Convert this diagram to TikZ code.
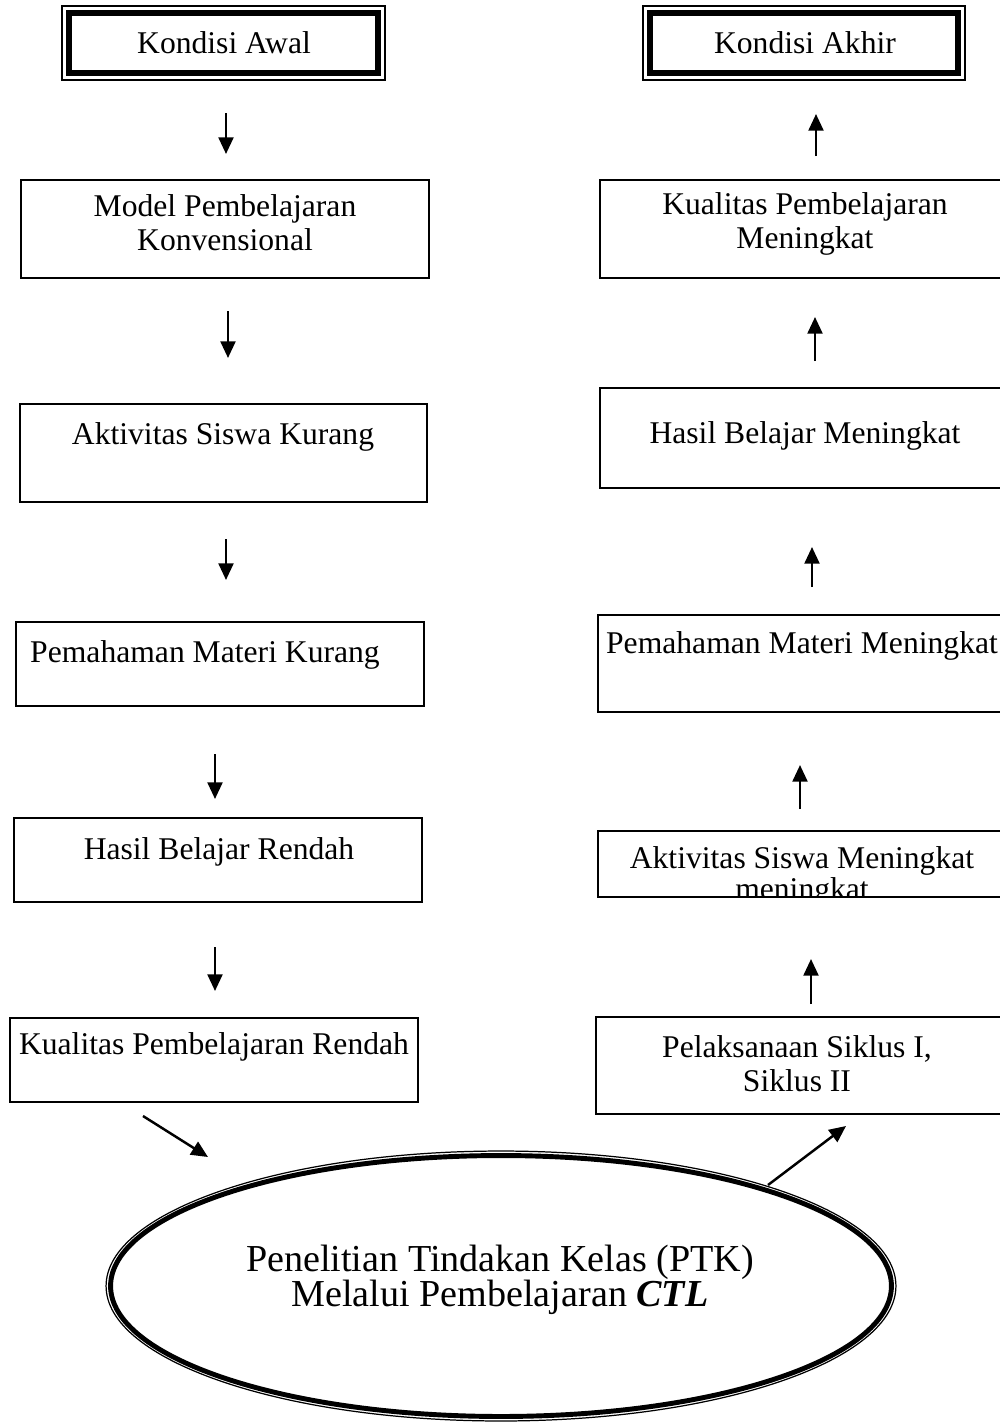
\documentclass[tikz,border=0pt]{standalone}
\usepackage{fontspec}
\setmainfont{Liberation Serif}
\usetikzlibrary{arrows.meta,shapes.geometric,fit}
\tikzset{
  box/.style={draw, line width=1.1pt, inner sep=0pt},
  thinbox/.style={draw, line width=0.8pt, inner sep=0pt},
  txt/.style={font=\fontsize{18}{19.4}\selectfont, align=center, inner sep=0pt},
  arr/.style={line width=1.4pt, -{Triangle[length=9.5pt,width=8.5pt]}},
}
\begin{document}
\begin{tikzpicture}[x=0.02cm,y=-0.02cm]
\useasboundingbox (0,0) rectangle (1000,1423);

% double-framed top boxes
\node[thinbox, fit={(62,6) (385,80)}] (k0) {};
\draw[line width=3.7pt] ([shift={(7.5,7.5)}]k0.north west) rectangle ([shift={(-7.5,-7.5)}]k0.south east);
\node[txt] (k0t) at (224,43) {Kondisi Awal};

\node[thinbox, fit={(643,6) (965,80)}] (k1) {};
\draw[line width=3.7pt] ([shift={(7.5,7.5)}]k1.north west) rectangle ([shift={(-7.5,-7.5)}]k1.south east);
\node[txt] (k1t) at (805,43) {Kondisi Akhir};

% left column
\node[box, fit={(21,180) (429,278)}] (b1) {};
\node[txt] (b1t) at (225,223) {Model Pembelajaran\\Konvensional};
\node[box, fit={(20,404) (427,502)}] (b2) {};
\node[txt] (b2t) at (223,437) {Aktivitas Siswa Kurang};
\node[box, fit={(16,622) (424,706)}] (b3) {};
\node[txt] (b3t) at (205,655) {Pemahaman Materi Kurang};
\node[box, fit={(14,818) (422,902)}] (b4) {};
\node[txt] (b4t) at (219,852) {Hasil Belajar Rendah};
\node[box, fit={(10,1018) (418,1102)}] (b5) {};
\node[txt] (b5t) at (214,1047) {Kualitas Pembelajaran Rendah};

% right column
\node[box, fit={(600,180) (1010,278)}] (r1) {};
\node[txt] (r1t) at (805,224) {Kualitas Pembelajaran\\Meningkat};
\node[box, fit={(600,388) (1010,488)}] (r2) {};
\node[txt] (r2t) at (805,436) {Hasil Belajar Meningkat};
\node[box, fit={(598,615) (1010,712)}] (r3) {};
\node[txt] (r3t) at (802,646) {Pemahaman Materi Meningkat};
\node[box, fit={(598,831) (1010,897)}] (r4) {};
\node[txt, anchor=base] (r4t) at (802,868.5) {Aktivitas Siswa Meningkat};
\begin{scope}
  \clip (600,832) rectangle (1005,895.5);
  \node[txt, anchor=base] (r4u) at (802,899) {meningkat};
\end{scope}
\node[box, fit={(596,1017) (1010,1114)}] (r5) {};
\node[txt] (r5t) at (797,1064) {Pelaksanaan Siklus I,\\Siklus II};

% ellipse
\node[ellipse, draw, line width=0.7pt, minimum width=15.8cm, minimum height=5.4cm, inner sep=0pt] (e) at (501,1286) {};
\draw[line width=2.8pt] (e.center) ellipse [x radius=7.81cm, y radius=2.61cm];
\node[txt, font=\fontsize{21.7}{19.8}\selectfont] (et) at (500,1280) {Penelitian Tindakan Kelas (PTK)\\Melalui Pembelajaran \textbf{\textit{CTL}}};

% arrow end points
\coordinate (a1s) at (226,113); \coordinate (a1e) at (226,154);
\coordinate (a2s) at (228,311); \coordinate (a2e) at (228,358);
\coordinate (a3s) at (226,539); \coordinate (a3e) at (226,580);
\coordinate (a4s) at (215,754); \coordinate (a4e) at (215,799);
\coordinate (a5s) at (215,947); \coordinate (a5e) at (215,991);
\coordinate (u1s) at (816,156); \coordinate (u1e) at (816,114);
\coordinate (u2s) at (815,361); \coordinate (u2e) at (815,317);
\coordinate (u3s) at (812,587); \coordinate (u3e) at (812,547);
\coordinate (u4s) at (800,809); \coordinate (u4e) at (800,765);
\coordinate (u5s) at (811,1004); \coordinate (u5e) at (811,959);
\coordinate (d1s) at (143,1116); \coordinate (d1e) at (208,1157);
\coordinate (d2s) at (768,1185); \coordinate (d2e) at (846,1126);

\draw[arr] (a1s) -- (a1e);
\draw[arr] (a2s) -- (a2e);
\draw[arr] (a3s) -- (a3e);
\draw[arr] (a4s) -- (a4e);
\draw[arr] (a5s) -- (a5e);
\draw[arr] (u1s) -- (u1e);
\draw[arr] (u2s) -- (u2e);
\draw[arr] (u3s) -- (u3e);
\draw[arr] (u4s) -- (u4e);
\draw[arr] (u5s) -- (u5e);
\draw[arr] (d1s) -- (d1e);
\draw[arr] (d2s) -- (d2e);
\end{tikzpicture}
\end{document}
